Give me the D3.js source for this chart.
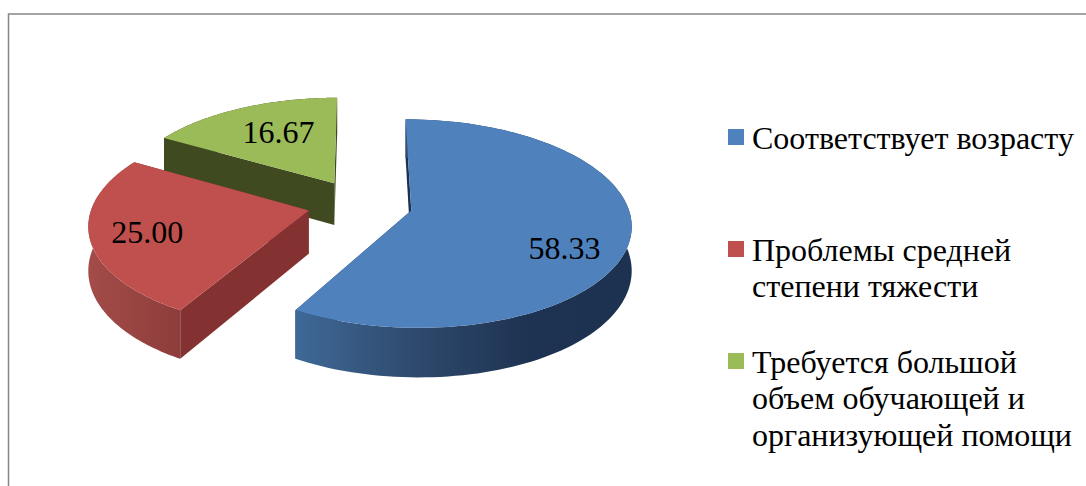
<!DOCTYPE html>
<html>
<head>
<meta charset="utf-8">
<script src="https://cdn.jsdelivr.net/npm/d3@7"></script>
<style>
  html, body { margin: 0; padding: 0; background: #fff; overflow: hidden; }
  text { font-family: "Liberation Serif", serif; fill: #000; }
</style>
</head>
<body>
<div id="chart"></div>
<script>
// Chart values
const categories = ['Соответствует возрасту', 'Проблемы средней степени тяжести', 'Требуется большой объем обучающей и организующей помощи'];
const values = [58.33, 25.0, 16.67];
const legendLines = [['Соответствует возрасту'], ['Проблемы средней', 'степени тяжести'], ['Требуется большой', 'объем обучающей и', 'организующей помощи']];

const topColors = ['#4f81bd', '#c0504d', '#9bbb59'];
const edgeColors = ['#1d3150', '#843131', '#3f4a20'];
const rimStops = [
  [[0, '#3f6997'], [0.35, '#2e4a6e'], [0.7, '#1e3251'], [1, '#1d3150']],
  [[0, '#a34c49'], [1, '#8d3d3b']],
  [[0, '#3f4a20'], [1, '#3f4a20']]
];

const width = 1086;
const height = 486;

// Pie plane seen in perspective
const cx = 360, cy = 204;
const radiusX = 216, radiusY = 101;
const persp = 0.125;
const explode = 0.244;
const depth = 43;

const project = (u, v, down = 0) => {
  const w = 1 - persp * v;
  return [cx + radiusX * u / w, cy + (radiusY * v + down) / w];
};

const svg = d3.select('#chart').append('svg')
  .attr('width', width)
  .attr('height', height);

svg.append('rect').attr('width', width).attr('height', height).attr('fill', '#fff');

// Frame: only the top and left edges are in the picture
svg.append('path')
  .attr('d', `M8.5,${height}V14H${width}`)
  .attr('fill', 'none')
  .attr('stroke', '#868686')
  .attr('stroke-width', 1.5);

const slices = d3.pie().sort(null).startAngle(0).endAngle(2 * Math.PI)(values);

// Labels sit a bit off the slice's middle, as in the original
const labelTurn = [13, -1, 3];
const labelRadius = [0.75, 0.745, 0.645];
const labelSize = 32;

const line = d3.line();
const defs = svg.append('defs');

// Back slice first so the nearer ones cover it
const order = [2, 1, 0];

order.forEach((i) => {
  const s = slices[i];
  const mid = (s.startAngle + s.endAngle) / 2;
  const u0 = explode * Math.sin(mid);
  const v0 = -explode * Math.cos(mid);

  const rimPoint = (a, down) => project(u0 + Math.sin(a), v0 - Math.cos(a), down);
  const angles = d3.range(0, 121).map((k) => s.startAngle + (s.endAngle - s.startAngle) * k / 120);

  const g = svg.append('g').attr('class', 'slice');

  // Flat cut walls
  [s.startAngle, s.endAngle].forEach((a) => {
    const wall = [project(u0, v0), rimPoint(a, 0), rimPoint(a, depth), project(u0, v0, depth)];
    g.append('path')
      .attr('d', line(wall) + 'Z')
      .attr('fill', edgeColors[i]);
  });

  // Curved outer wall
  const grad = defs.append('linearGradient').attr('id', `rim${i}`);
  rimStops[i].forEach(([o, c]) => {
    grad.append('stop').attr('offset', o).attr('stop-color', c);
  });
  const rim = angles.map((a) => rimPoint(a, 0)).concat(angles.slice().reverse().map((a) => rimPoint(a, depth)));
  g.append('path')
    .attr('d', line(rim) + 'Z')
    .attr('fill', `url(#rim${i})`);

  // Top face
  const top = [project(u0, v0)].concat(angles.map((a) => rimPoint(a, 0)));
  g.append('path')
    .attr('d', line(top) + 'Z')
    .attr('fill', topColors[i]);
});

// Value labels
slices.forEach((s, i) => {
  const mid = (s.startAngle + s.endAngle) / 2;
  const a = mid + labelTurn[i] * Math.PI / 180;
  const u = explode * Math.sin(mid) + labelRadius[i] * Math.sin(a);
  const v = -explode * Math.cos(mid) - labelRadius[i] * Math.cos(a);
  const [x, y] = project(u, v);
  svg.append('text')
    .attr('x', x)
    .attr('y', y + 11)
    .attr('text-anchor', 'middle')
    .attr('font-size', labelSize)
    .text(values[i].toFixed(2));
});

// Legend
const legendX = 728;
const legendBox = 16;
const legendTextX = 752;
const legendLineGap = 36.7;
const legendTop = [129, 241, 353];

const legend = svg.append('g').attr('class', 'legend');
categories.forEach((c, i) => {
  legend.append('rect')
    .attr('x', legendX)
    .attr('y', legendTop[i])
    .attr('width', legendBox)
    .attr('height', legendBox)
    .attr('fill', topColors[i]);
  legendLines[i].forEach((t, k) => {
    legend.append('text')
      .attr('x', legendTextX)
      .attr('y', legendTop[i] + 19.5 + k * legendLineGap)
      .attr('font-size', labelSize)
      .text(t);
  });
});
</script>
</body>
</html>
